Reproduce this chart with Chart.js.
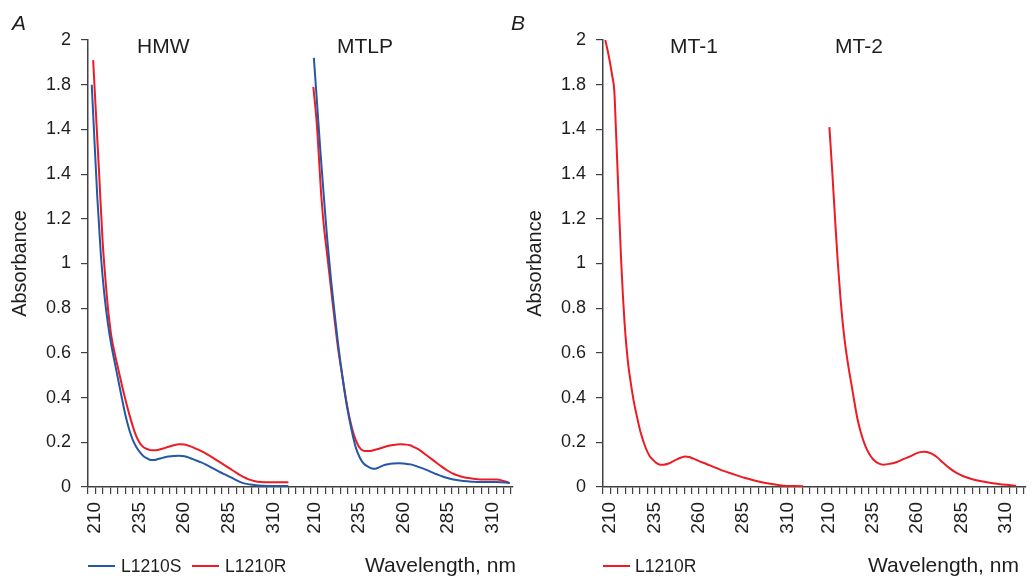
<!DOCTYPE html>
<html>
<head>
<meta charset="utf-8">
<script src="https://cdn.jsdelivr.net/npm/chart.js@4"></script>
<style>
  body { margin: 0; background: #fff; }
  #wrap { position: relative; width: 1032px; height: 576px; overflow: hidden; font-family: 'Liberation Sans', Arial, sans-serif; color: #1e1e1e; }
  canvas { position: absolute; top: 0; }
  .txt { position: absolute; line-height: 1; white-space: nowrap; }
  .panel { font-size: 21px; font-style: italic; }
  .sub { font-size: 21px; }
  .leg { font-size: 17.5px; }
  .xt { font-size: 21px; }
  .swatch { position: absolute; height: 2px; }
</style>
</head>
<body>
<div id="wrap">
  <canvas id="chartA" width="516" height="576" style="left:0"></canvas>
  <canvas id="chartB" width="517" height="576" style="left:515px"></canvas>

  <div class="txt panel" style="left:12px; top:12px">A</div>
  <div class="txt panel" style="left:511px; top:12px">B</div>
  <div class="txt sub" style="left:137px; top:35px">HMW</div>
  <div class="txt sub" style="left:337px; top:35px">MTLP</div>
  <div class="txt sub" style="left:670px; top:35px">MT-1</div>
  <div class="txt sub" style="left:835px; top:35px">MT-2</div>

  <div class="swatch" style="left:88px; top:565px; width:27px; background:#2557a7"></div>
  <div class="txt leg" style="left:121px; top:558px">L1210S</div>
  <div class="swatch" style="left:192px; top:565px; width:27px; background:#ed1c24"></div>
  <div class="txt leg" style="left:225px; top:558px">L1210R</div>
  <div class="txt xt" style="left:365px; top:554px">Wavelength, nm</div>

  <div class="swatch" style="left:603px; top:565px; width:27px; background:#ed1c24"></div>
  <div class="txt leg" style="left:635px; top:558px">L1210R</div>
  <div class="txt xt" style="left:868px; top:554px">Wavelength, nm</div>
</div>

<script>
// ---- data (wavelength in nm, absorbance) ----

const xTickLabels = [210, 235, 260, 285, 310];
const yTickLabels = ['0', '0.2', '0.4', '0.6', '0.8', '1', '1.2', '1.4', '1.4', '1.8', '2'];

// HMW
const hmwS_nm  = [208.9, 210, 212, 214, 216, 218, 220, 222, 224, 226, 228, 230, 232, 234, 236, 238, 240, 242, 244, 246, 248, 250, 252, 255, 258, 261, 264, 267, 270, 273, 277, 281, 285, 289, 292, 295, 298, 302, 308, 314, 319.3];
const hmwS_abs = [1.80, 1.62, 1.30, 1.04, 0.86, 0.73, 0.63, 0.55, 0.47, 0.39, 0.315, 0.255, 0.21, 0.178, 0.155, 0.138, 0.128, 0.121, 0.121, 0.125, 0.129, 0.133, 0.136, 0.139, 0.14, 0.138, 0.13, 0.12, 0.111, 0.10, 0.083, 0.066, 0.051, 0.035, 0.023, 0.015, 0.011, 0.007, 0.005, 0.005, 0.005];

const hmwR_nm  = [209.7, 211, 213, 215, 217, 218, 219, 220, 222, 224, 226, 228, 230, 232, 234, 236, 238, 240, 242, 244, 246, 249, 252, 255, 258, 261, 264, 267, 271, 275, 279, 283, 286.5, 290, 294, 297, 300, 304, 308, 314, 319.3];
const hmwR_abs = [1.91, 1.71, 1.41, 1.10, 0.89, 0.80, 0.73, 0.67, 0.59, 0.52, 0.45, 0.385, 0.325, 0.27, 0.225, 0.195, 0.178, 0.17, 0.165, 0.164, 0.166, 0.172, 0.18, 0.187, 0.191, 0.19, 0.183, 0.173, 0.158, 0.14, 0.12, 0.10, 0.082, 0.064, 0.045, 0.034, 0.027, 0.022, 0.021, 0.021, 0.021];

// MTLP
const mtlpS_nm  = [210.4, 212, 214, 216.2, 218, 220, 222, 224, 226.5, 229, 231.6, 234, 236.3, 238.5, 241, 243, 244.7, 247, 249.4, 252, 255, 258, 260.6, 263.5, 266.3, 269, 271.9, 275.5, 279.4, 283, 286.9, 290.5, 294.4, 299, 303.8, 313.2, 320.3];
const mtlpS_abs = [1.92, 1.74, 1.51, 1.28, 1.10, 0.93, 0.78, 0.64, 0.49, 0.36, 0.254, 0.175, 0.13, 0.104, 0.09, 0.083, 0.082, 0.088, 0.097, 0.102, 0.105, 0.106, 0.105, 0.102, 0.098, 0.09, 0.082, 0.07, 0.057, 0.046, 0.037, 0.031, 0.027, 0.024, 0.022, 0.022, 0.018];

const mtlpR_nm  = [210.1, 212, 214.6, 216, 218, 220, 222, 224, 226.5, 228.5, 230.7, 233, 235.3, 237, 239.1, 241.5, 243.8, 247.5, 251.3, 255, 258.8, 261.5, 264.4, 267, 270, 273.5, 277.5, 281.5, 285.1, 289, 292.6, 296, 300, 304, 307.6, 313.2, 316.9, 320.3];
const mtlpR_abs = [1.79, 1.63, 1.30, 1.17, 1.03, 0.89, 0.75, 0.62, 0.49, 0.39, 0.30, 0.23, 0.186, 0.168, 0.161, 0.161, 0.164, 0.172, 0.182, 0.188, 0.191, 0.19, 0.187, 0.177, 0.164, 0.143, 0.119, 0.095, 0.075, 0.058, 0.048, 0.041, 0.037, 0.034, 0.033, 0.033, 0.027, 0.018];

// MT-1
const mt1R_nm  = [208.1, 210, 212, 213.2, 214, 215, 216, 217, 218, 219, 220, 221, 222.2, 224, 226, 228, 230.7, 233, 235.3, 237, 239.1, 241, 243.8, 246, 248.5, 251, 253.2, 255.5, 257.8, 261, 265.4, 269, 272.9, 277.5, 282.3, 287, 291.6, 297, 302.9, 306.5, 310.4, 315, 319.7];
const mt1R_abs = [2.0, 1.93, 1.84, 1.77, 1.62, 1.42, 1.21, 1.02, 0.86, 0.73, 0.63, 0.55, 0.48, 0.39, 0.313, 0.245, 0.179, 0.14, 0.119, 0.107, 0.10, 0.10, 0.105, 0.114, 0.124, 0.132, 0.137, 0.134, 0.127, 0.116, 0.102, 0.09, 0.078, 0.065, 0.052, 0.04, 0.03, 0.02, 0.012, 0.008, 0.005, 0.004, 0.003];

// MT-2
const mt2R_nm  = [211.3, 213, 214.5, 216, 217.5, 219, 220.5, 222, 223.5, 225, 227, 229, 231.5, 234, 236.2, 239, 241.9, 245.5, 249.4, 253, 256.9, 260, 262.5, 264.5, 266.3, 269, 271.9, 275.5, 279.4, 283, 286.9, 291.5, 296.3, 301, 305.7, 311, 316.6];
const mt2R_abs = [1.61, 1.40, 1.20, 1.01, 0.85, 0.72, 0.62, 0.54, 0.47, 0.40, 0.31, 0.245, 0.185, 0.145, 0.122, 0.106, 0.10, 0.104, 0.112, 0.125, 0.137, 0.149, 0.156, 0.158, 0.157, 0.149, 0.134, 0.108, 0.082, 0.063, 0.048, 0.036, 0.027, 0.02, 0.015, 0.01, 0.006];

// ---- layout of the shared wavelength axis (two sub-plots side by side) ----
const X_MIN = 206.8;
const X_MAX = 445.4;
const SEG_OFFSET = 123.2;        // second sub-plot starts here on the common axis
const MINOR_STEP = 25 / 6;

const BLUE = '#2557a7';
const RED = '#ed1c24';
const AXIS = '#404040';
const TEXT = '#1e1e1e';

Chart.defaults.font.family = "'Liberation Sans', Arial, sans-serif";
Chart.defaults.color = TEXT;

function toPoints(nm, abs, offset) {
    return nm.map((w, i) => ({ x: w + offset, y: abs[i] }));
}

function series(nm, abs, offset, color) {
    return {
        data: toPoints(nm, abs, offset),
        borderColor: color,
        backgroundColor: color,
        borderWidth: 2,
        pointRadius: 0,
        cubicInterpolationMode: 'monotone',
        fill: false
    };
}

function buildXTicks(scale) {
    const ticks = [];
    for (let v = X_MIN; v <= X_MAX + 1e-6; v += MINOR_STEP) {
        ticks.push({ value: v, text: '' });
    }
    xTickLabels.forEach(l => {
        ticks.push({ value: l, text: String(l) });
        ticks.push({ value: l + SEG_OFFSET, text: String(l) });
    });
    ticks.sort((a, b) => a.value - b.value);
    scale.ticks = ticks;
}

function makeChart(canvasId, datasets, padRight) {
    const ctx = document.getElementById(canvasId);
    return new Chart(ctx, {
        type: 'line',
        data: { datasets: datasets },
        options: {
            responsive: false,
            animation: false,
            layout: { padding: { left: 0, top: 40, right: padRight, bottom: 29 } },
            plugins: {
                legend: { display: false },
                tooltip: { enabled: false }
            },
            scales: {
                x: {
                    type: 'linear',
                    min: X_MIN,
                    max: X_MAX,
                    afterBuildTicks: buildXTicks,
                    afterFit: (scale) => {
                        scale.height = 60;
                        scale.paddingLeft = 0;
                        scale.paddingRight = 0;
                    },
                    ticks: {
                        autoSkip: false,
                        minRotation: 90,
                        maxRotation: 90,
                        padding: 8,
                        labelOffset: 1.5,
                        font: { size: 19 },
                        color: TEXT,
                        callback: (v, i, ticks) => ticks[i].text
                    },
                    grid: {
                        drawOnChartArea: false,
                        tickLength: 7,
                        lineWidth: 1.2,
                        color: AXIS,
                        tickColor: (c) => (c.tick && c.tick.text) ? 'rgba(0,0,0,0)' : AXIS
                    },
                    border: { color: AXIS, width: 1.5 }
                },
                y: {
                    min: 0,
                    max: 2,
                    afterFit: (scale) => { scale.width = 88; },
                    ticks: {
                        stepSize: 0.2,
                        padding: 10,
                        font: { size: 18 },
                        color: TEXT,
                        callback: (v, i) => yTickLabels[i]
                    },
                    grid: {
                        drawOnChartArea: false,
                        tickLength: 7,
                        lineWidth: 1.2,
                        color: AXIS
                    },
                    border: { color: AXIS, width: 1.5 },
                    title: {
                        display: true,
                        text: 'Absorbance',
                        color: TEXT,
                        font: { size: 20, lineHeight: 1.2 },
                        padding: { top: 8, bottom: 0 }
                    }
                }
            }
        }
    });
}

makeChart('chartA', [
    series(hmwS_nm, hmwS_abs, 0, BLUE),
    series(hmwR_nm, hmwR_abs, 0, RED),
    series(mtlpS_nm, mtlpS_abs, SEG_OFFSET, BLUE),
    series(mtlpR_nm, mtlpR_abs, SEG_OFFSET, RED)
], 3);

makeChart('chartB', [
    series(mt1R_nm, mt1R_abs, 0, RED),
    series(mt2R_nm, mt2R_abs, SEG_OFFSET, RED)
], 6);
</script>
</body>
</html>
